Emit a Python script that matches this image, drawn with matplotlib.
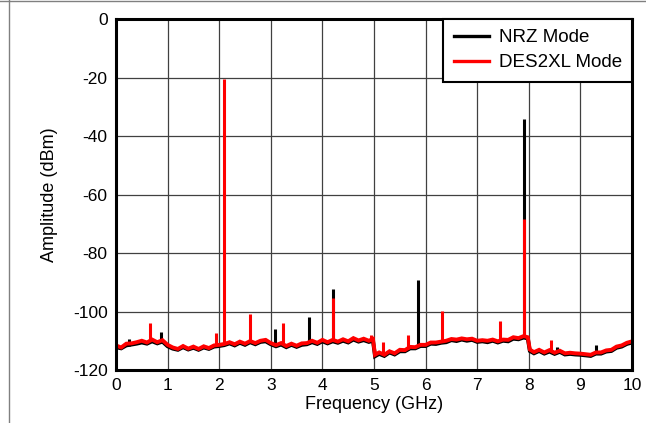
import matplotlib
matplotlib.use("Agg")
import matplotlib.pyplot as plt
from matplotlib.lines import Line2D

plt.rcParams['font.family'] = ['Liberation Sans', 'DejaVu Sans']

# Noise-floor trace (GHz, dBm)
floor_freq = [0.0, 0.1, 0.2, 0.3, 0.4, 0.5, 0.6, 0.7, 0.8, 0.9,
              1.0, 1.1, 1.2, 1.3, 1.4, 1.5, 1.6, 1.7, 1.8, 1.9,
              2.0, 2.1, 2.2, 2.3, 2.4, 2.5, 2.6, 2.7, 2.8, 2.9,
              3.0, 3.1, 3.2, 3.3, 3.4, 3.5, 3.6, 3.7, 3.8, 3.9,
              4.0, 4.1, 4.2, 4.3, 4.4, 4.5, 4.6, 4.7, 4.8, 4.9, 4.98,
              5.02, 5.1, 5.2, 5.3, 5.4, 5.5, 5.6, 5.7, 5.8, 5.9,
              6.0, 6.1, 6.2, 6.3, 6.4, 6.5, 6.6, 6.7, 6.8, 6.9,
              7.0, 7.1, 7.2, 7.3, 7.4, 7.5, 7.6, 7.7, 7.8, 7.9, 7.98,
              8.02, 8.1, 8.2, 8.3, 8.4, 8.5, 8.6, 8.7, 8.8, 8.9,
              9.0, 9.1, 9.2, 9.3, 9.4, 9.5, 9.6, 9.7, 9.8, 9.9, 10.0]

des_floor = [-111.6, -112.3, -111.0, -110.9, -110.5, -110.0, -110.6, -109.6, -110.5, -109.8,
             -111.4, -112.3, -112.8, -111.8, -112.7, -112.0, -112.8, -111.9, -112.5, -111.6,
             -111.4, -111.1, -110.5, -111.2, -110.3, -111.0, -110.1, -110.8, -110.0, -109.7,
             -110.8, -111.5, -110.8, -111.8, -111.0, -111.7, -110.9, -110.8, -110.0, -110.7,
             -109.7, -110.5, -109.7, -110.3, -109.5, -110.2, -109.1, -109.9, -109.3, -110.0, -109.4,
             -114.8, -114.0, -114.8, -113.6, -114.3, -113.1, -113.2, -112.1, -112.2, -111.4,
             -111.4, -110.6, -110.6, -110.3, -110.0, -109.4, -109.6, -109.2, -109.5, -109.3,
             -110.0, -109.8, -110.0, -109.6, -110.2, -109.6, -109.7, -108.8, -109.1, -108.4, -108.8,
             -113.0, -113.9, -113.1, -114.0, -113.2, -114.1, -113.4, -114.3, -114.1, -114.3,
             -114.4, -114.6, -114.8, -114.0, -114.0, -113.3, -113.1, -112.0, -111.6, -110.7, -110.2]

nrz_floor = [-112.2, -112.6, -111.6, -111.3, -111.0, -110.6, -111.0, -110.2, -110.9, -110.3,
             -111.9, -112.7, -113.1, -112.2, -113.0, -112.4, -113.1, -112.3, -112.8, -112.0,
             -111.8, -111.5, -110.9, -111.6, -110.7, -111.4, -110.5, -111.2, -110.4, -110.2,
             -111.2, -111.9, -111.3, -112.2, -111.4, -112.1, -111.4, -111.2, -110.5, -111.1,
             -110.2, -110.9, -110.2, -110.7, -110.0, -110.6, -109.6, -110.3, -109.8, -110.4, -110.0,
             -115.3, -114.5, -115.2, -114.0, -114.7, -113.6, -113.6, -112.6, -112.6, -111.8,
             -111.8, -111.0, -111.1, -110.7, -110.5, -109.8, -110.1, -109.6, -110.0, -109.7,
             -110.4, -110.2, -110.5, -110.0, -110.6, -110.0, -110.2, -109.3, -109.5, -108.9, -109.2,
             -113.5, -114.3, -113.5, -114.4, -113.7, -114.5, -113.8, -114.7, -114.5, -114.7,
             -114.8, -115.0, -115.2, -114.4, -114.4, -113.7, -113.5, -112.4, -112.0, -111.1, -110.6]

# Discrete spurs: frequency (GHz), peak (dBm), base level at the floor (dBm)
nrz_spur_freq = [0.25, 0.88, 3.09, 3.74, 4.20, 5.85, 6.50, 7.90, 8.55, 9.31]
nrz_spur_peak = [-109.5, -107.0, -106.0, -101.8, -92.3, -89.2, -109.8, -34.3, -112.0, -111.5]
nrz_spur_base = [-111.7, -110.6, -111.7, -111.1, -110.3, -112.2, -110.0, -109.0, -114.3, -114.6]

des_spur_freq = [0.65, 1.94, 2.10, 2.60, 3.24, 4.20, 4.95, 5.18, 5.66, 6.32, 7.44, 7.90, 8.43]
des_spur_peak = [-104.0, -107.5, -20.5, -101.0, -104.0, -95.4, -108.0, -110.3, -108.0, -99.8, -103.2, -68.4, -109.8]
des_spur_base = [-110.2, -111.7, -111.0, -110.2, -111.0, -109.8, -109.6, -114.4, -112.8, -110.5, -109.6, -108.5, -113.5]

x_ticks = [0, 1, 2, 3, 4, 5, 6, 7, 8, 9, 10]
y_ticks = [-120, -100, -80, -60, -40, -20, 0]

fig = plt.figure(figsize=(6.46, 4.23), dpi=100)
ax = fig.add_axes([116/646, 53/423, 516/646, 351/423])

ax.plot(floor_freq, nrz_floor, color='black', lw=2.8, solid_joinstyle='miter', zorder=3)
ax.vlines(nrz_spur_freq, nrz_spur_base, nrz_spur_peak, color='black', lw=2.2, zorder=3)
ax.plot(floor_freq, des_floor, color='#ff0000', lw=2.8, solid_joinstyle='miter', zorder=4)
ax.vlines(des_spur_freq, des_spur_base, des_spur_peak, color='#ff0000', lw=2.2, zorder=4)

ax.set_xlim(0, 10)
ax.set_ylim(-120, 0)
ax.set_xticks(x_ticks)
ax.set_yticks(y_ticks)
ax.set_xticklabels([str(t) for t in x_ticks])
ax.set_yticklabels([str(t) for t in y_ticks])
ax.tick_params(length=0, labelsize=12.5, pad=6)
ax.grid(True, color='#404040', lw=0.9, zorder=1)
ax.set_axisbelow(True)
for s in ax.spines.values():
    s.set_linewidth(2.2)
    s.set_color('black')
    s.set_zorder(6)

ax.set_xlabel('Frequency (GHz)', fontsize=13, labelpad=2)
ax.set_ylabel('Amplitude (dBm)', fontsize=13, labelpad=11)

handles = [Line2D([], [], color='black', lw=2.4), Line2D([], [], color='#ff0000', lw=2.4)]
leg = ax.legend(handles, ['NRZ Mode', 'DES2XL Mode'], loc='upper right', fontsize=13.5,
                borderaxespad=0, fancybox=False, framealpha=1, edgecolor='black',
                handlelength=1.87, handletextpad=0.53, borderpad=0.55, labelspacing=0.42)
leg.get_frame().set_linewidth(1.5)
leg.set_zorder(7)

# partial outer frame (top and left)
fig.add_artist(Line2D([0, 1], [1 - 1.5/423, 1 - 1.5/423], transform=fig.transFigure, color='#808080', lw=1))
fig.add_artist(Line2D([8.5/646, 8.5/646], [0, 1], transform=fig.transFigure, color='#808080', lw=1))

fig.savefig('out.png', dpi=100)
